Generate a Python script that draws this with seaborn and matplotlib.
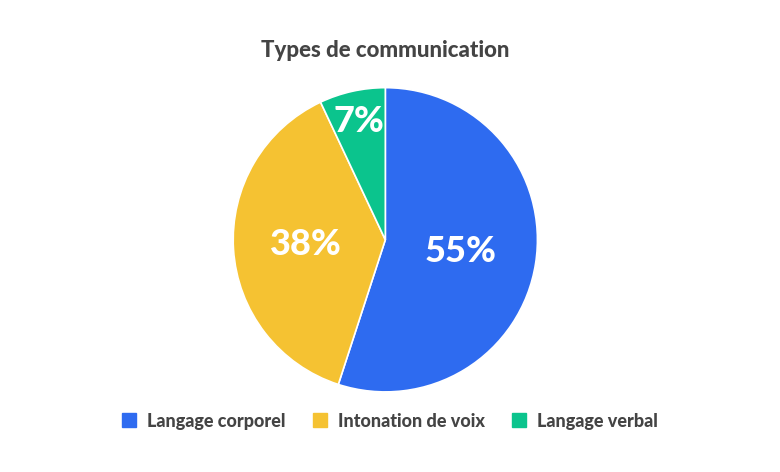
import numpy as np
import matplotlib
matplotlib.use("Agg")
import matplotlib.pyplot as plt
import seaborn as sns

labels = ["Langage corporel", "Intonation de voix", "Langage verbal"]
values = [55, 38, 7]
colors = ["#2E6BF0", "#F5C232", "#0BC48D"]
label_dist = [0.5, 0.52, 0.8]

sns.set_theme(style="white")
plt.rcParams['font.family'] = ['Lato', 'DejaVu Sans']

fig = plt.figure(figsize=(7.8, 4.72), dpi=100)
ax = fig.add_axes([0.298, 0.168, 0.392, 0.648])

wedges, _ = ax.pie(values, colors=colors, startangle=90, counterclock=False,
                   wedgeprops=dict(edgecolor="white", linewidth=1.2))
for w, v, d in zip(wedges, values, label_dist):
    ang = np.deg2rad((w.theta1 + w.theta2) / 2)
    ax.text(d * np.cos(ang), d * np.sin(ang), f"{v}%", ha="center", va="center",
            color="white", fontsize=26, fontweight="black")
ax.set_xlim(-1.005, 1.005)
ax.set_ylim(-1.005, 1.005)
ax.set_aspect("equal")

fig.text(0.494, 0.894, "Types de communication", ha="center", va="center",
         fontsize=16, fontweight="black", color="#444444")

handles = [plt.Rectangle((0, 0), 1, 1, color=c) for c in colors]
leg = fig.legend(handles, labels, loc="center", bbox_to_anchor=(0.5, 0.108), ncol=3,
                 frameon=False, handlelength=0.8, handleheight=0.8, columnspacing=1.5,
                 handletextpad=0.6, prop=dict(size=13, weight="black"))
for t in leg.get_texts():
    t.set_color("#444444")

fig.savefig("out.png", dpi=100, facecolor="white")
